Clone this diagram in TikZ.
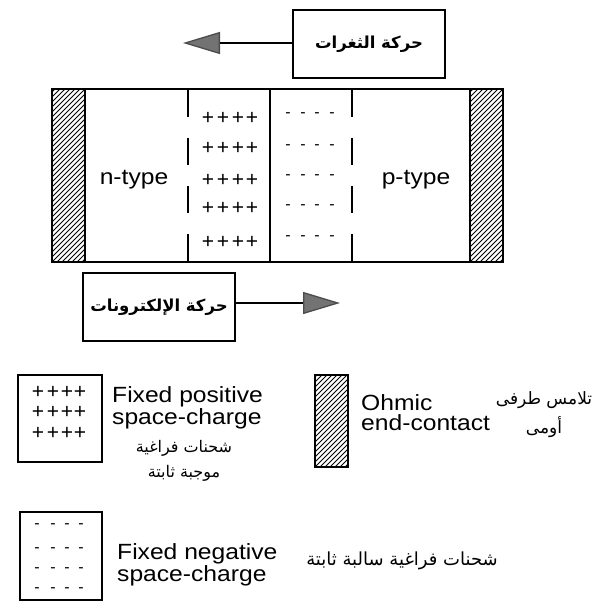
\documentclass[tikz,border=0pt]{standalone}
\usepackage{fontspec}
\setmainfont{Liberation Sans}
\newfontfamily\widefont[FakeStretch=1.12]{Liberation Sans}
\newfontfamily\arabicfont[Script=Arabic]{DejaVu Sans}
\TeXXeTstate=1
\usetikzlibrary{arrows.meta}
\newcommand\hatchbox[4]{%
  \begin{scope}
    \clip (#1,#2) rectangle (#3,#4);
    \foreach \k in {-200,-195,...,40} \draw[hatchline] (#1+\k,#4) -- ++(220,-220);
  \end{scope}}
\begin{document}
\begin{tikzpicture}[x=1pt,y=-1pt,
  frame/.style={draw, line width=1.7pt, inner sep=0},
  ar/.style={font=\arabicfont\fontsize{16}{25}\selectfont, inner sep=0, align=center},
  arbig/.style={font=\arabicfont\bfseries\fontsize{16.5}{22}\selectfont},
  lbl/.style={font=\widefont\fontsize{22}{18}\selectfont, align=left, inner sep=0},
  plus/.style={font=\fontsize{21}{21}\selectfont, inner sep=0},
  minus/.style={font=\fontsize{16}{16}\selectfont, inner sep=0},
  hatchline/.style={line width=0.9pt},
  dividerdash/.style={line width=1.3pt, dash pattern=on 27pt off 21pt},
  mv/.style={line width=1.3pt, -{Triangle[length=37pt,width=22pt,fill=black!55,color=black!70]}}]
\useasboundingbox (0,0) rectangle (600,604);

% holes movement
\node[frame, minimum width=152pt, minimum height=68pt, ar, arbig] (hbox) at (369,44) {\beginR حركة الثغرات\endR};
\coordinate (htip) at (183,43);
\draw[mv] (hbox.west |- htip) -- (htip);

% diode
\hatchbox{52}{89}{85}{262}
\hatchbox{470}{89}{503}{262}
\node[frame, line width=2pt, minimum width=451pt, minimum height=173pt] (diode) at (277.5,175.5) {};
\draw[frame] (85,89) -- (85,262);
\draw[frame] (470,89) -- (470,262);
\draw[frame] (270,89) -- (270,262);
\draw[dividerdash] (188,90) -- (188,262);
\draw[dividerdash] (352,90) -- (352,262);
\node[lbl] (ntype) at (134,180) {n-type};
\node[lbl] (ptype) at (416,180) {p-type};
\foreach \r [count=\i] in {118,148,180,208,242}
  \foreach \c [count=\j] in {208,223,238,252}
    \node[plus] (pp\i\j) at (\c,\r) {+};
\foreach \r [count=\i] in {115,147,177,207,238}
  \foreach \c [count=\j] in {288,303,317,332}
    \node[minus] (mm\i\j) at (\c,\r) {-};

% electrons movement
\node[frame, minimum width=152pt, minimum height=68pt, ar, arbig] (ebox) at (159,307) {\beginR حركة الإلكترونات\endR};
\coordinate (etip) at (340,303);
\draw[mv] (ebox.east |- etip) -- (etip);

% legend: positive
\node[frame, minimum width=84pt, minimum height=87pt] (lpos) at (60,418.5) {};
\foreach \r [count=\i] in {392,412,433}
  \foreach \c [count=\j] in {38,53,67,80}
    \node[plus] (lp\i\j) at (\c,\r) {+};
\node[lbl, anchor=west] (lpostxt) at (112,408) {Fixed positive\\space-charge};
\node[ar] (lposar) at (184,461) {\beginR شحنات فراغية\endR\\\beginR موجبة ثابتة\endR};

% legend: ohmic
\hatchbox{315}{375}{348}{467}
\node[frame, minimum width=33pt, minimum height=92pt] (lohm) at (331.5,421) {};
\node[lbl, anchor=west, font=\widefont\fontsize{22}{20}\selectfont] (lohmtxt) at (361,413) {Ohmic\\end-contact};
\node[ar, font=\arabicfont\fontsize{17}{29}\selectfont] (lohmar) at (544,415) {\beginR تلامس طرفى\endR\\\beginR أومى\endR};

% legend: negative
\node[frame, minimum width=82pt, minimum height=88pt] (lneg) at (61,556) {};
\foreach \r [count=\i] in {526,550,570,590}
  \foreach \c [count=\j] in {37,53,67,81}
    \node[minus] (ln\i\j) at (\c,\r) {-};
\node[lbl, anchor=west, font=\widefont\fontsize{22}{20}\selectfont] (lnegtxt) at (117,565) {Fixed negative\\space-charge};
\node[ar, font=\arabicfont\fontsize{18}{22}\selectfont] (lnegar) at (402,561) {\beginR شحنات فراغية سالبة ثابتة\endR};
\end{tikzpicture}
\end{document}
